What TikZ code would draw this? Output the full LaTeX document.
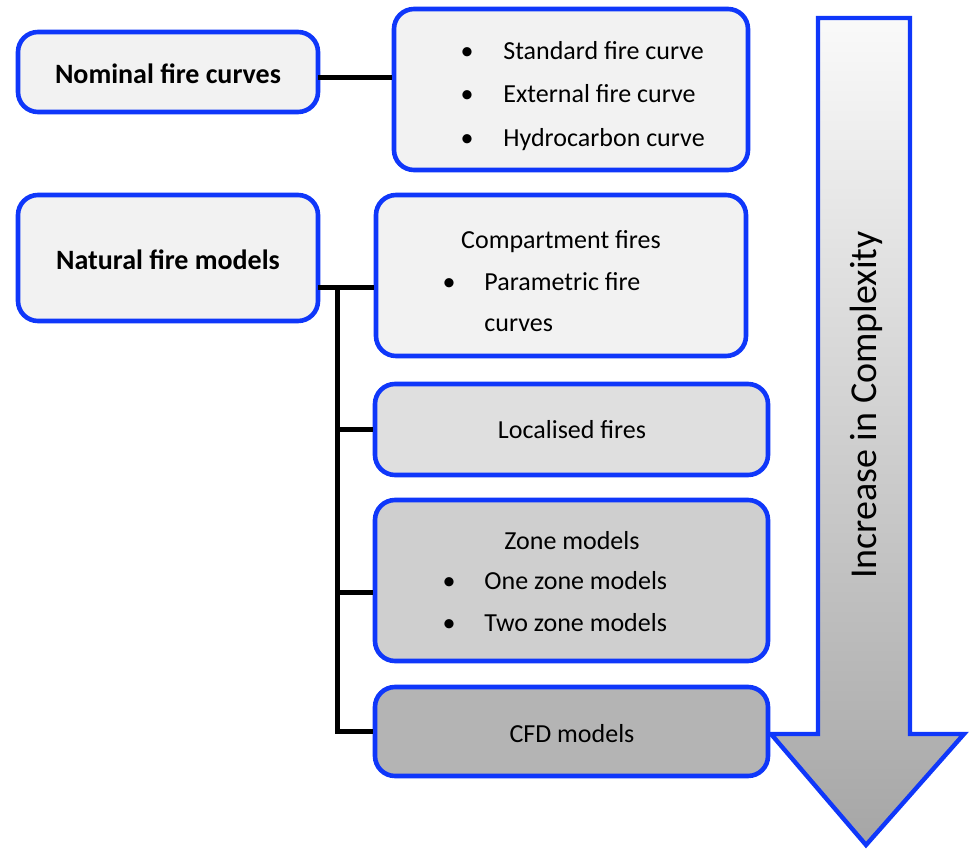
\documentclass[tikz,border=0pt]{standalone}
\usepackage{fontspec}
\setmainfont{Carlito}
\usepackage{xcolor}
\usepackage{tikz}
\usetikzlibrary{fit}
\usetikzlibrary{calc}

\definecolor{fireblue}{RGB}{15,55,250}
\definecolor{pale}{RGB}{242,242,242}
\definecolor{greyA}{RGB}{223,223,223}
\definecolor{greyB}{RGB}{207,207,207}
\definecolor{greyC}{RGB}{180,180,180}

\newcommand{\itemfont}{\fontsize{13}{15}\selectfont}
\newcommand{\headfont}{\fontsize{14}{16}\selectfont\bfseries}
\newcommand{\arrowfont}{\fontsize{19}{22}\selectfont}

\begin{document}
\begin{tikzpicture}[x=0.5pt, y=-0.5pt,
    firebox/.style={draw=fireblue, line width=2.3pt, rounded corners=10pt,
      inner sep=0pt},
    link/.style={draw=black, line width=2.5pt},
    entry/.style={anchor=mid west, inner sep=0pt, font=\itemfont},
    dot/.style={anchor=mid, inner sep=0pt, font=\itemfont}]

    \useasboundingbox (0,0) rectangle (969,850);

    % left column
    \node [firebox, fill=pale, fit={(18,32) (318,112)}] (nominal) {};
    \node [firebox, fill=pale, fit={(18,195) (318,321)}] (natural) {};
    \node [dot, font=\headfont] (nomtext) at (168, 79) {Nominal fire curves};
    \node [dot, font=\headfont] (nattext) at (168, 265) {Natural fire models};

    % right column
    \node [firebox, fill=pale, fit={(394,9) (748,170)}] (standard) {};
    \node [firebox, fill=pale, fit={(376,195) (746,356)}] (compart) {};
    \node [firebox, fill=greyA, fit={(375,384) (768,475)}] (localised) {};
    \node [firebox, fill=greyB, fit={(375,500) (768,661)}] (zone) {};
    \node [firebox, fill=greyC, fit={(375,687) (768,776)}] (cfd) {};

    \foreach \y/\txt [count=\i] in {55/Standard fire curve,
      98/External fire curve, 142/Hydrocarbon curve} {
      \node [dot] (sdot\i) at (467, \y) {\textbullet};
      \node [entry] (sitem\i) at (503, \y) {\txt};
    }

    \node [dot] (ctitle) at (561, 244) {Compartment fires};
    \node [dot] (cdot) at (449, 286) {\textbullet};
    \node [entry] (citem) at (484, 286) {Parametric fire};
    \node [entry] (citemb) at (484, 327) {curves};

    \node [dot] (ltext) at (572, 434) {Localised fires};

    \node [dot] (ztitle) at (572, 545) {Zone models};
    \foreach \y/\txt [count=\i] in {585/One zone models, 627/Two zone models} {
      \node [dot] (zdot\i) at (449, \y) {\textbullet};
      \node [entry] (zitem\i) at (484, \y) {\txt};
    }

    \node [dot] (cfdtext) at (572, 738) {CFD models};

    % connectors
    \coordinate (nomlink) at (318, 78);
    \draw [link] (nomlink) -- (nomlink -| standard.west);

    \coordinate (natlink) at (318, 288);
    \coordinate (trunk) at (337, 288);
    \coordinate (zonelink) at (337, 592);
    \draw [link] (natlink) -- (natlink -| compart.west);
    \draw [link] (trunk) |- (cfd.west);
    \draw [link] (trunk |- localised.west) -- (localised.west);
    \draw [link] (zonelink) -- (zonelink -| zone.west);

    % complexity arrow
    \draw [draw=fireblue, line width=2.2pt, top color=white!98!black,
      bottom color=black!35]
    (818, 18) -- (910, 18) -- (910, 734) -- (964, 734) -- (866, 845)
    -- (771, 734) -- (818, 734) -- cycle;
    \node [rotate=90, font=\arrowfont] (complexity) at (866, 405)
    {Increase in Complexity};

  \end{tikzpicture}
\end{document}
